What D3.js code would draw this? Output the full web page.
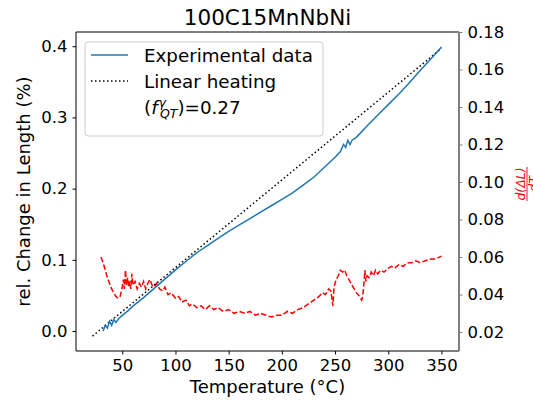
<!DOCTYPE html>
<html>
<head>
<meta charset="utf-8">
<script src="https://cdn.jsdelivr.net/npm/d3@7"></script>
<style>
  body { margin: 0; background: #fff; }
  text { font-family: "DejaVu Sans", sans-serif; }
</style>
</head>
<body>
<div id="chart"></div>
<script>
// experimental dilatometry curve (rel. change in length, %)
const expTemp = [32, 34, 36, 38, 40, 42, 44, 47, 50, 55, 60, 70, 80, 90, 100, 110, 120, 130, 140, 150,
  160, 170, 180, 190, 200, 210, 220, 230, 240, 250, 255, 258, 260, 262, 264, 266, 270, 280, 290, 300,
  310, 320, 330, 340, 350];
const expVal = [0.000, 0.008, 0.004, 0.014, 0.008, 0.016, 0.012, 0.018, 0.022, 0.028, 0.035, 0.047, 0.060,
  0.073, 0.086, 0.098, 0.110, 0.120, 0.130, 0.140, 0.149, 0.158, 0.167, 0.176, 0.185, 0.194, 0.205, 0.216,
  0.230, 0.244, 0.252, 0.262, 0.258, 0.268, 0.262, 0.268, 0.272, 0.288, 0.303, 0.318, 0.333, 0.349, 0.366,
  0.382, 0.399];

// linear heating reference
const linTemp = [22, 350];
const linVal = [-0.007, 0.397];

// derivative d(dL)/dT, right axis
const derTemp = [30, 32, 34, 36, 38, 40, 42, 44, 46, 48, 50, 51, 52, 53, 54, 55, 56, 57, 58, 59, 60, 62,
  64, 66, 68, 70, 72, 74, 76, 78, 80, 82, 85, 88, 90, 93, 96, 100, 103, 106, 110, 113, 116, 120, 124, 128,
  132, 136, 140, 145, 150, 155, 160, 165, 170, 175, 180, 185, 190, 195, 200, 205, 210, 215, 220, 225, 230,
  235, 238, 241, 244, 246, 248, 249, 251, 253, 255, 257, 259, 261, 264, 267, 270, 273, 275, 276, 277, 278,
  279, 280, 282, 284, 286, 288, 290, 293, 296, 300, 303, 306, 310, 314, 318, 322, 326, 330, 335, 340, 345, 350];
const derVal = [0.060, 0.057, 0.053, 0.049, 0.046, 0.043, 0.041, 0.039, 0.038, 0.039, 0.044, 0.048, 0.043,
  0.053, 0.045, 0.049, 0.044, 0.047, 0.043, 0.051, 0.045, 0.047, 0.043, 0.046, 0.044, 0.047, 0.043, 0.046,
  0.048, 0.045, 0.044, 0.046, 0.043, 0.042, 0.044, 0.040, 0.041, 0.038, 0.039, 0.036, 0.037, 0.034, 0.035,
  0.033, 0.034, 0.032, 0.034, 0.032, 0.033, 0.031, 0.032, 0.030, 0.031, 0.030, 0.031, 0.029, 0.030, 0.029,
  0.028, 0.029, 0.029, 0.031, 0.030, 0.032, 0.033, 0.035, 0.037, 0.039, 0.041, 0.040, 0.043, 0.042, 0.034,
  0.044, 0.048, 0.050, 0.053, 0.052, 0.053, 0.050, 0.047, 0.044, 0.041, 0.039, 0.037, 0.039, 0.045, 0.053,
  0.047, 0.050, 0.049, 0.052, 0.050, 0.053, 0.051, 0.053, 0.052, 0.054, 0.055, 0.054, 0.056, 0.055, 0.057,
  0.057, 0.058, 0.057, 0.058, 0.059, 0.059, 0.0605];

const xTicks = [50, 100, 150, 200, 250, 300, 350];
const yTicks = [0.0, 0.1, 0.2, 0.3, 0.4];
const y2Ticks = [0.02, 0.04, 0.06, 0.08, 0.10, 0.12, 0.14, 0.16, 0.18];

const W = 533, H = 400;
const margin = { top: 32, right: 74, bottom: 49, left: 76 };
const width = W - margin.left - margin.right,
  height = H - margin.top - margin.bottom;

const svg = d3.select("#chart").append("svg")
  .attr("width", W).attr("height", H);

const g = svg.append("g")
  .attr("transform", "translate(" + margin.left + "," + margin.top + ")");

const x = d3.scaleLinear().domain([6.5, 366.5]).range([0, width]);
const y = d3.scaleLinear().domain([-0.028, 0.42]).range([height, 0]);
const y2 = d3.scaleLinear().domain([0.0099, 0.18]).range([height, 0]);

const zip = (a, b) => a.map((v, i) => [v, b[i]]);

// derivative (red dashed) drawn first, on the twin axis
g.append("path")
  .datum(zip(derTemp, derVal))
  .attr("fill", "none")
  .attr("stroke", "#ff0000")
  .attr("stroke-width", 1.5)
  .attr("stroke-dasharray", "5.5,2.4")
  .attr("d", d3.line().x(d => x(d[0])).y(d => y2(d[1])));

g.append("path")
  .datum(zip(linTemp, linVal))
  .attr("fill", "none")
  .attr("stroke", "#000")
  .attr("stroke-width", 1.5)
  .attr("stroke-dasharray", "1.5,2.5")
  .attr("d", d3.line().x(d => x(d[0])).y(d => y(d[1])));

g.append("path")
  .datum(zip(expTemp, expVal))
  .attr("fill", "none")
  .attr("stroke", "#1f77b4")
  .attr("stroke-width", 1.5)
  .attr("d", d3.line().x(d => x(d[0])).y(d => y(d[1])));

// axes
const styleAxis = (sel, color) => {
  sel.select(".domain").remove();
  sel.selectAll(".tick line").attr("stroke", color).attr("stroke-width", 1);
  sel.selectAll(".tick text").attr("fill", "#000")
    .style("font-size", "16.5px").style("font-family", "DejaVu Sans");
};

g.append("g")
  .attr("transform", "translate(0," + height + ")")
  .call(d3.axisBottom(x).tickValues(xTicks).tickSize(3.5).tickPadding(5).tickFormat(d3.format("d")))
  .call(s => styleAxis(s, "#000"));

g.append("g")
  .call(d3.axisLeft(y).tickValues(yTicks).tickSize(3.5).tickPadding(5).tickFormat(d3.format(".1f")))
  .call(s => styleAxis(s, "#000"));

g.append("g")
  .attr("transform", "translate(" + width + ",0)")
  .call(d3.axisRight(y2).tickValues(y2Ticks).tickSize(3.5).tickPadding(5).tickFormat(d3.format(".2f")))
  .call(s => styleAxis(s, "#808080"));

// spines
g.append("line").attr("x1", 0).attr("x2", 0).attr("y1", 0).attr("y2", height).attr("stroke", "#000");
g.append("line").attr("x1", 0).attr("x2", width).attr("y1", 0).attr("y2", 0).attr("stroke", "#000");
g.append("line").attr("x1", 0).attr("x2", width).attr("y1", height).attr("y2", height).attr("stroke", "#000");
g.append("line").attr("x1", width).attr("x2", width).attr("y1", 0).attr("y2", height)
  .attr("stroke", "#808080").attr("stroke-width", 2);

// title and labels
svg.append("text")
  .attr("x", margin.left + width / 2).attr("y", 25)
  .attr("text-anchor", "middle").style("font-size", "21.5px")
  .text("100C15MnNbNi");

svg.append("text")
  .attr("x", margin.left + width / 2).attr("y", 393)
  .attr("text-anchor", "middle").style("font-size", "18px")
  .text("Temperature (°C)");

svg.append("text")
  .attr("transform", "translate(30," + (margin.top + height / 2) + ") rotate(-90)")
  .attr("text-anchor", "middle").style("font-size", "18px")
  .text("rel. Change in Length (%)");

// right label: d(ΔL)/dT fraction, partly cut by the figure edge
const frac = svg.append("g")
  .attr("transform", "translate(527,184) rotate(-90)")
  .attr("fill", "#ff0000");
frac.append("text").attr("y", -2.5).attr("text-anchor", "middle")
  .style("font-size", "12.5px").style("font-style", "italic").text("d(ΔL)");
frac.append("line").attr("x1", -17).attr("x2", 17).attr("y1", 0).attr("y2", 0)
  .attr("stroke", "#ff0000").attr("stroke-width", 0.9);
frac.append("text").attr("y", 11).attr("text-anchor", "middle")
  .style("font-size", "12.5px").style("font-style", "italic").text("dT");

// legend
const lg = svg.append("g").attr("transform", "translate(85,42)");
lg.append("rect")
  .attr("width", 238).attr("height", 94).attr("rx", 3)
  .attr("fill", "#fff").attr("fill-opacity", 0.8)
  .attr("stroke", "#cccccc").attr("stroke-width", 1);

lg.append("line").attr("x1", 6).attr("x2", 43).attr("y1", 13).attr("y2", 13)
  .attr("stroke", "#1f77b4").attr("stroke-width", 1.5);
lg.append("text").attr("x", 59).attr("y", 19.5).style("font-size", "18.3px").text("Experimental data");

lg.append("line").attr("x1", 6).attr("x2", 43).attr("y1", 39).attr("y2", 39)
  .attr("stroke", "#000").attr("stroke-width", 1.5).attr("stroke-dasharray", "1.5,2.5");
lg.append("text").attr("x", 59).attr("y", 45.5).style("font-size", "18.3px").text("Linear heating");

const fl = lg.append("text").attr("x", 59).attr("y", 72).style("font-size", "18.3px");
fl.append("tspan").text("(");
fl.append("tspan").style("font-style", "italic").text("f");
fl.append("tspan").attr("dy", -7).attr("dx", 1).style("font-size", "12.5px").style("font-style", "italic").text("γ");
fl.append("tspan").attr("dy", 11).attr("dx", -6).style("font-size", "12.5px").style("font-style", "italic").text("QT");
fl.append("tspan").attr("dy", -4).text(")=0.27");
</script>
</body>
</html>
